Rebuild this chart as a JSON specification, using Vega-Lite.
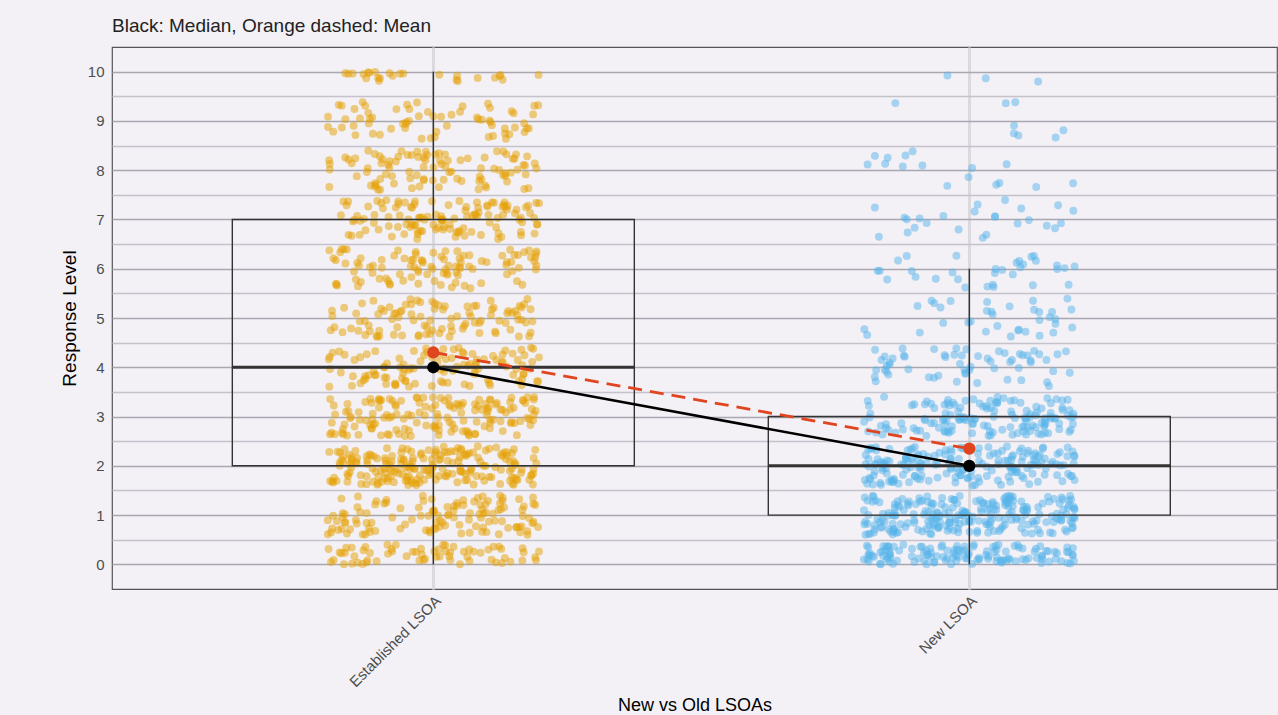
{
  "$schema": "https://vega.github.io/schema/vega-lite/v6.json",
  "width": 1165,
  "height": 542,
  "autosize": "none",
  "padding": {"left": 112, "top": 47, "right": 1, "bottom": 126},
  "background": "#f3f1f6",
  "config": {
    "font": "Liberation Sans",
    "view": {"fill": "#f3f1f6", "stroke": "#555555", "strokeWidth": 1.2},
    "axis": {"domain": false, "ticks": false, "labelFont": "Liberation Sans", "titleFont": "Liberation Sans"},
    "axisY": {"labelFontSize": 15, "labelColor": "#4d4d4d", "labelPadding": 8, "titleFontSize": 19, "titleColor": "#000000", "titleFontWeight": "normal", "titlePadding": 8, "gridWidth": 1.3, "labelOverlap": false}
  },
  "title": {"text": "Black: Median, Orange dashed: Mean", "anchor": "start", "frame": "group", "fontSize": 19, "fontWeight": "normal", "color": "#222222", "offset": 11, "font": "Liberation Sans"},
  "data": {
    "values": [
      {"group": "Established LSOA", "level": [
        0,0,0,0,0,0,0,0,0,0,
        0,0,0,0,0,0,0,0,0,0,
        0,0,0,0,0,0,0,0,0,0,
        0,0,0,0,0,0,0,0,0,0,
        0,0,0,0,0,0,0,0,0,0,
        0,0,0,0,0,0,0,0,0,0,
        0,0,0,0,0,
        1,1,1,1,1,1,1,1,1,1,
        1,1,1,1,1,1,1,1,1,1,
        1,1,1,1,1,1,1,1,1,1,
        1,1,1,1,1,1,1,1,1,1,
        1,1,1,1,1,1,1,1,1,1,
        1,1,1,1,1,1,1,1,1,1,
        1,1,1,1,1,1,1,1,1,1,
        1,1,1,1,1,1,1,1,1,1,
        1,1,1,1,1,1,1,1,1,1,
        1,1,1,1,1,1,1,1,1,1,
        1,1,1,1,1,1,1,1,1,1,
        1,1,1,1,1,1,1,1,1,1,
        2,2,2,2,2,2,2,2,2,2,
        2,2,2,2,2,2,2,2,2,2,
        2,2,2,2,2,2,2,2,2,2,
        2,2,2,2,2,2,2,2,2,2,
        2,2,2,2,2,2,2,2,2,2,
        2,2,2,2,2,2,2,2,2,2,
        2,2,2,2,2,2,2,2,2,2,
        2,2,2,2,2,2,2,2,2,2,
        2,2,2,2,2,2,2,2,2,2,
        2,2,2,2,2,2,2,2,2,2,
        2,2,2,2,2,2,2,2,2,2,
        2,2,2,2,2,2,2,2,2,2,
        2,2,2,2,2,2,2,2,2,2,
        2,2,2,2,2,2,2,2,2,2,
        2,2,2,2,2,2,2,2,2,2,
        2,2,2,2,2,2,2,2,2,2,
        2,2,2,2,2,2,2,2,2,2,
        2,2,2,2,2,2,2,2,2,2,
        2,2,2,2,2,2,2,2,2,2,
        2,2,2,2,2,2,2,2,2,2,
        3,3,3,3,3,3,3,3,3,3,
        3,3,3,3,3,3,3,3,3,3,
        3,3,3,3,3,3,3,3,3,3,
        3,3,3,3,3,3,3,3,3,3,
        3,3,3,3,3,3,3,3,3,3,
        3,3,3,3,3,3,3,3,3,3,
        3,3,3,3,3,3,3,3,3,3,
        3,3,3,3,3,3,3,3,3,3,
        3,3,3,3,3,3,3,3,3,3,
        3,3,3,3,3,3,3,3,3,3,
        3,3,3,3,3,3,3,3,3,3,
        3,3,3,3,3,3,3,3,3,3,
        3,3,3,3,3,3,3,3,3,3,
        3,3,3,3,3,3,3,3,3,3,
        3,3,3,3,3,3,3,3,3,3,
        4,4,4,4,4,4,4,4,4,4,
        4,4,4,4,4,4,4,4,4,4,
        4,4,4,4,4,4,4,4,4,4,
        4,4,4,4,4,4,4,4,4,4,
        4,4,4,4,4,4,4,4,4,4,
        4,4,4,4,4,4,4,4,4,4,
        4,4,4,4,4,4,4,4,4,4,
        4,4,4,4,4,4,4,4,4,4,
        4,4,4,4,4,4,4,4,4,4,
        4,4,4,4,4,4,4,4,4,4,
        4,4,4,4,4,4,4,4,4,4,
        5,5,5,5,5,5,5,5,5,5,
        5,5,5,5,5,5,5,5,5,5,
        5,5,5,5,5,5,5,5,5,5,
        5,5,5,5,5,5,5,5,5,5,
        5,5,5,5,5,5,5,5,5,5,
        5,5,5,5,5,5,5,5,5,5,
        5,5,5,5,5,5,5,5,5,5,
        5,5,5,5,5,5,5,5,5,5,
        5,5,5,5,5,5,5,5,5,5,
        5,5,5,5,5,5,5,5,5,5,
        6,6,6,6,6,6,6,6,6,6,
        6,6,6,6,6,6,6,6,6,6,
        6,6,6,6,6,6,6,6,6,6,
        6,6,6,6,6,6,6,6,6,6,
        6,6,6,6,6,6,6,6,6,6,
        6,6,6,6,6,6,6,6,6,6,
        6,6,6,6,6,6,6,6,6,6,
        6,6,6,6,6,6,6,6,6,6,
        6,6,6,6,6,6,6,6,6,6,
        6,6,6,6,6,6,6,6,6,6,
        7,7,7,7,7,7,7,7,7,7,
        7,7,7,7,7,7,7,7,7,7,
        7,7,7,7,7,7,7,7,7,7,
        7,7,7,7,7,7,7,7,7,7,
        7,7,7,7,7,7,7,7,7,7,
        7,7,7,7,7,7,7,7,7,7,
        7,7,7,7,7,7,7,7,7,7,
        7,7,7,7,7,7,7,7,7,7,
        7,7,7,7,7,7,7,7,7,7,
        7,7,7,7,7,7,7,7,7,7,
        7,7,7,7,7,7,7,7,7,7,
        7,7,7,7,7,7,7,7,7,7,
        8,8,8,8,8,8,8,8,8,8,
        8,8,8,8,8,8,8,8,8,8,
        8,8,8,8,8,8,8,8,8,8,
        8,8,8,8,8,8,8,8,8,8,
        8,8,8,8,8,8,8,8,8,8,
        8,8,8,8,8,8,8,8,8,8,
        8,8,8,8,8,8,8,8,8,8,
        8,8,8,8,8,8,8,8,8,8,
        8,8,8,8,8,8,8,8,8,8,
        8,8,8,8,8,
        9,9,9,9,9,9,9,9,9,9,
        9,9,9,9,9,9,9,9,9,9,
        9,9,9,9,9,9,9,9,9,9,
        9,9,9,9,9,9,9,9,9,9,
        9,9,9,9,9,9,9,9,9,9,
        9,9,9,9,9,9,9,9,9,9,
        9,9,9,9,9,
        10,10,10,10,10,10,10,10,10,10,
        10,10,10,10,10,10,10,10,10,10,
        10,10,10,10,10
      ]},
      {"group": "New LSOA", "level": [
        0,0,0,0,0,0,0,0,0,0,
        0,0,0,0,0,0,0,0,0,0,
        0,0,0,0,0,0,0,0,0,0,
        0,0,0,0,0,0,0,0,0,0,
        0,0,0,0,0,0,0,0,0,0,
        0,0,0,0,0,0,0,0,0,0,
        0,0,0,0,0,0,0,0,0,0,
        0,0,0,0,0,0,0,0,0,0,
        0,0,0,0,0,0,0,0,0,0,
        0,0,0,0,0,0,0,0,0,0,
        0,0,0,0,0,0,0,0,0,0,
        0,0,0,0,0,0,0,0,0,0,
        0,0,0,0,0,0,0,0,0,0,
        1,1,1,1,1,1,1,1,1,1,
        1,1,1,1,1,1,1,1,1,1,
        1,1,1,1,1,1,1,1,1,1,
        1,1,1,1,1,1,1,1,1,1,
        1,1,1,1,1,1,1,1,1,1,
        1,1,1,1,1,1,1,1,1,1,
        1,1,1,1,1,1,1,1,1,1,
        1,1,1,1,1,1,1,1,1,1,
        1,1,1,1,1,1,1,1,1,1,
        1,1,1,1,1,1,1,1,1,1,
        1,1,1,1,1,1,1,1,1,1,
        1,1,1,1,1,1,1,1,1,1,
        1,1,1,1,1,1,1,1,1,1,
        1,1,1,1,1,1,1,1,1,1,
        1,1,1,1,1,1,1,1,1,1,
        1,1,1,1,1,1,1,1,1,1,
        1,1,1,1,1,1,1,1,1,1,
        1,1,1,1,1,1,1,1,1,1,
        1,1,1,1,1,1,1,1,1,1,
        1,1,1,1,1,1,1,1,1,1,
        1,1,1,1,1,1,1,1,1,1,
        1,1,1,1,1,1,1,1,1,1,
        1,1,1,1,1,1,1,1,1,1,
        1,1,1,1,1,
        2,2,2,2,2,2,2,2,2,2,
        2,2,2,2,2,2,2,2,2,2,
        2,2,2,2,2,2,2,2,2,2,
        2,2,2,2,2,2,2,2,2,2,
        2,2,2,2,2,2,2,2,2,2,
        2,2,2,2,2,2,2,2,2,2,
        2,2,2,2,2,2,2,2,2,2,
        2,2,2,2,2,2,2,2,2,2,
        2,2,2,2,2,2,2,2,2,2,
        2,2,2,2,2,2,2,2,2,2,
        2,2,2,2,2,2,2,2,2,2,
        2,2,2,2,2,2,2,2,2,2,
        2,2,2,2,2,2,2,2,2,2,
        2,2,2,2,2,2,2,2,2,2,
        2,2,2,2,2,2,2,2,2,2,
        2,2,2,2,2,2,2,2,2,2,
        2,2,2,2,2,2,2,2,2,2,
        2,2,2,2,2,2,2,2,2,2,
        2,2,2,2,2,
        3,3,3,3,3,3,3,3,3,3,
        3,3,3,3,3,3,3,3,3,3,
        3,3,3,3,3,3,3,3,3,3,
        3,3,3,3,3,3,3,3,3,3,
        3,3,3,3,3,3,3,3,3,3,
        3,3,3,3,3,3,3,3,3,3,
        3,3,3,3,3,3,3,3,3,3,
        3,3,3,3,3,3,3,3,3,3,
        3,3,3,3,3,3,3,3,3,3,
        3,3,3,3,3,3,3,3,3,3,
        3,3,3,3,3,3,3,3,3,3,
        3,3,3,3,3,3,3,3,3,3,
        3,3,3,3,3,3,3,3,3,3,
        3,3,3,3,3,3,3,3,3,3,
        3,3,3,3,3,
        4,4,4,4,4,4,4,4,4,4,
        4,4,4,4,4,4,4,4,4,4,
        4,4,4,4,4,4,4,4,4,4,
        4,4,4,4,4,4,4,4,4,4,
        4,4,4,4,4,4,4,4,4,4,
        4,4,4,4,4,4,4,4,4,4,
        5,5,5,5,5,5,5,5,5,5,
        5,5,5,5,5,5,5,5,5,5,
        5,5,5,5,5,5,5,5,5,5,
        5,5,5,5,5,
        6,6,6,6,6,6,6,6,6,6,
        6,6,6,6,6,6,6,6,6,6,
        6,6,6,6,6,6,6,6,6,6,
        6,6,
        7,7,7,7,7,7,7,7,7,7,
        7,7,7,7,7,7,7,7,7,7,
        7,7,7,7,7,
        8,8,8,8,8,8,8,8,8,8,
        8,8,8,8,8,8,
        9,9,9,9,9,9,9,9,
        10,10,10
      ]}
    ]
  },
  "transform": [
    {"flatten": ["level"]},
    {"window": [{"op": "row_number", "as": "i"}]},
    {"calculate": "(abs(sin(datum.i * 12.9898) * 43758.5453) % 1) * 2 - 1", "as": "jx"},
    {"calculate": "((abs(sin(datum.i * 78.233 + 1.7) * 24634.6345) % 1) * 2 - 1) * 0.4", "as": "jo"},
    {"calculate": "datum.level == 0 ? abs(datum.jo) : (datum.level == 10 ? datum.level - abs(datum.jo) * 0.5 : datum.level + datum.jo)", "as": "yj"}
  ],
  "layer": [
    {
      "mark": {"type": "circle", "opacity": 0.5, "size": 62},
      "encoding": {
        "x": {"field": "group", "type": "nominal", "title": "New vs Old LSOAs",
          "scale": {"type": "band", "paddingInner": 0.25, "paddingOuter": 0.2118, "align": 0.53},
          "axis": {"labelAngle": -45, "labelFontSize": 15, "labelColor": "#4d4d4d", "labelPadding": 4, "grid": true, "gridColor": "#dad9de", "gridWidth": 3, "bandPosition": 0.5, "titleFontSize": 18, "titleFontWeight": "normal", "titleColor": "#000000", "titleY": 121, "titleBaseline": "alphabetic"}},
        "xOffset": {"field": "jx", "type": "quantitative", "scale": {"domain": [-1.9, 1.9]}},
        "y": {"field": "yj", "type": "quantitative", "title": "Response Level",
          "scale": {"domain": [-0.5, 10.5], "nice": false, "zero": false},
          "axis": {"values": [0,0.5,1,1.5,2,2.5,3,3.5,4,4.5,5,5.5,6,6.5,7,7.5,8,8.5,9,9.5,10], "labelExpr": "datum.value % 1 === 0 ? '' + datum.value : ''", "gridColor": {"condition": {"test": "datum.value % 1 === 0", "value": "#a9a8b0"}, "value": "#c4c3cb"}}},
        "color": {"field": "group", "type": "nominal", "scale": {"domain": ["Established LSOA", "New LSOA"], "range": ["#E69F00", "#56B4E9"]}, "legend": null}
      }
    },
    {
      "mark": {"type": "boxplot", "extent": 1.5, "size": 402, "ticks": false, "outliers": false,
        "box": {"fillOpacity": 0, "stroke": "#333333", "strokeWidth": 1.4},
        "median": {"color": "#333333", "thickness": 3, "opacity": 1},
        "rule": {"color": "#333333", "strokeWidth": 1.4}},
      "encoding": {
        "x": {"field": "group", "type": "nominal", "title": "New vs Old LSOAs"},
        "y": {"field": "level", "type": "quantitative", "title": "Response Level",
          "axis": {"values": [0,0.5,1,1.5,2,2.5,3,3.5,4,4.5,5,5.5,6,6.5,7,7.5,8,8.5,9,9.5,10], "labelExpr": "datum.value % 1 === 0 ? '' + datum.value : ''", "gridColor": {"condition": {"test": "datum.value % 1 === 0", "value": "#a9a8b0"}, "value": "#c4c3cb"}}}
      }
    },
    {
      "transform": [{"aggregate": [{"op": "mean", "field": "level", "as": "mean"}, {"op": "median", "field": "level", "as": "med"}], "groupby": ["group"]}],
      "layer": [
        {"mark": {"type": "line", "color": "#E0451F", "strokeWidth": 2.8, "strokeDash": [14, 8]},
          "encoding": {"x": {"field": "group", "type": "nominal", "title": "New vs Old LSOAs"}, "y": {"field": "mean", "type": "quantitative", "title": "Response Level",
            "axis": {"values": [0,0.5,1,1.5,2,2.5,3,3.5,4,4.5,5,5.5,6,6.5,7,7.5,8,8.5,9,9.5,10], "labelExpr": "datum.value % 1 === 0 ? '' + datum.value : ''", "gridColor": {"condition": {"test": "datum.value % 1 === 0", "value": "#a9a8b0"}, "value": "#c4c3cb"}}}}},
        {"mark": {"type": "line", "color": "#000000", "strokeWidth": 2.6},
          "encoding": {"x": {"field": "group", "type": "nominal", "title": "New vs Old LSOAs"}, "y": {"field": "med", "type": "quantitative", "title": "Response Level",
            "axis": {"values": [0,0.5,1,1.5,2,2.5,3,3.5,4,4.5,5,5.5,6,6.5,7,7.5,8,8.5,9,9.5,10], "labelExpr": "datum.value % 1 === 0 ? '' + datum.value : ''", "gridColor": {"condition": {"test": "datum.value % 1 === 0", "value": "#a9a8b0"}, "value": "#c4c3cb"}}}}},
        {"mark": {"type": "circle", "color": "#E0451F", "size": 150, "opacity": 1},
          "encoding": {"x": {"field": "group", "type": "nominal", "title": "New vs Old LSOAs"}, "y": {"field": "mean", "type": "quantitative", "title": "Response Level",
            "axis": {"values": [0,0.5,1,1.5,2,2.5,3,3.5,4,4.5,5,5.5,6,6.5,7,7.5,8,8.5,9,9.5,10], "labelExpr": "datum.value % 1 === 0 ? '' + datum.value : ''", "gridColor": {"condition": {"test": "datum.value % 1 === 0", "value": "#a9a8b0"}, "value": "#c4c3cb"}}}}},
        {"mark": {"type": "circle", "color": "#000000", "size": 150, "opacity": 1},
          "encoding": {"x": {"field": "group", "type": "nominal", "title": "New vs Old LSOAs"}, "y": {"field": "med", "type": "quantitative", "title": "Response Level",
            "axis": {"values": [0,0.5,1,1.5,2,2.5,3,3.5,4,4.5,5,5.5,6,6.5,7,7.5,8,8.5,9,9.5,10], "labelExpr": "datum.value % 1 === 0 ? '' + datum.value : ''", "gridColor": {"condition": {"test": "datum.value % 1 === 0", "value": "#a9a8b0"}, "value": "#c4c3cb"}}}}}
      ]
    }
  ]
}
